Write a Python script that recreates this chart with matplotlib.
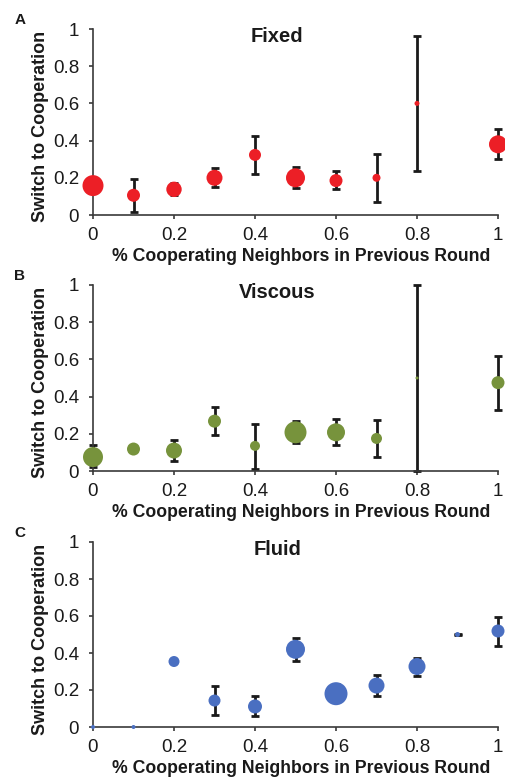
import numpy as np
import matplotlib
matplotlib.use('Agg')
import matplotlib.pyplot as plt
from matplotlib.ticker import FuncFormatter

plt.rcParams['font.family'] = ['Liberation Sans', 'DejaVu Sans']

nan = np.nan

# Fixed
fixed_x = [0, 0.1, 0.2, 0.3, 0.4, 0.5, 0.6, 0.7, 0.8, 1.0]
fixed_y = [0.158, 0.106, 0.138, 0.20, 0.323, 0.20, 0.185, 0.20, 0.60, 0.38]
fixed_lo = [nan, 0.018, 0.11, 0.152, 0.219, 0.145, 0.14, 0.07, 0.235, 0.30]
fixed_hi = [nan, 0.195, 0.17, 0.251, 0.426, 0.26, 0.235, 0.33, 0.965, 0.46]
fixed_size = [10.5, 6.5, 7.7, 8, 6, 9.5, 6.5, 4, 2.5, 9]

# Viscous
visc_x = [0, 0.1, 0.2, 0.3, 0.4, 0.5, 0.6, 0.7, 0.8, 1.0]
visc_y = [0.075, 0.118, 0.11, 0.268, 0.135, 0.208, 0.208, 0.175, 0.50, 0.475]
visc_lo = [0.02, nan, 0.055, 0.195, 0.01, 0.15, 0.14, 0.075, 0.0, 0.33]
visc_hi = [0.14, nan, 0.165, 0.345, 0.255, 0.27, 0.28, 0.275, 1.0, 0.62]
visc_size = [10, 6.5, 8, 6.5, 5, 11, 9, 5.5, 1.5, 6.5]

# Fluid
fluid_x = [0, 0.1, 0.2, 0.3, 0.4, 0.5, 0.6, 0.7, 0.8, 0.9, 1.0]
fluid_y = [0.0, 0.0, 0.354, 0.143, 0.111, 0.42, 0.18, 0.224, 0.327, 0.50, 0.519]
fluid_lo = [nan, nan, nan, 0.065, 0.057, 0.355, 0.17, 0.17, 0.275, 0.497, 0.44]
fluid_hi = [nan, nan, nan, 0.22, 0.165, 0.48, 0.23, 0.28, 0.375, 0.503, 0.595]
fluid_size = [2, 2, 5.5, 6, 7, 9.5, 11.5, 8, 8.5, 2.5, 6.5]

panels = [
    ('A', 'Fixed', fixed_x, fixed_y, fixed_lo, fixed_hi, fixed_size, '#ec1f26'),
    ('B', 'Viscous', visc_x, visc_y, visc_lo, visc_hi, visc_size, '#77933c'),
    ('C', 'Fluid', fluid_x, fluid_y, fluid_lo, fluid_hi, fluid_size, '#4a6fc1'),
]

W, H = 506, 783
fig = plt.figure(figsize=(W / 100, H / 100), dpi=100)

# top / bottom pixel of each axes
boxes = [(29, 215), (285, 471), (542, 727)]
left_px, right_px = 93, 498

for (letter, title, x, y, lo, hi, size, color), (top, bot) in zip(panels, boxes):
    ax = fig.add_axes([left_px / W, 1 - bot / H, (right_px - left_px) / W, (bot - top) / H])
    x = np.array(x)
    y = np.array(y)
    lo = np.array(lo)
    hi = np.array(hi)
    m = ~np.isnan(lo)
    ax.errorbar(x[m], y[m], yerr=[y[m] - lo[m], hi[m] - y[m]], fmt='none',
                ecolor='#1a1a1a', elinewidth=2.0, capsize=2.7, capthick=2.0,
                clip_on=False, zorder=2)
    ms = np.array(size) * 2 * 0.72
    ax.scatter(x, y, s=ms ** 2, color=color, edgecolors='none', zorder=3, clip_on=False)

    ax.set_xlim(0, 1)
    ax.set_ylim(0, 1)
    ax.set_xticks([0, 0.2, 0.4, 0.6, 0.8, 1])
    ax.set_yticks([0, 0.2, 0.4, 0.6, 0.8, 1])
    fmt = FuncFormatter(lambda v, p: '%g' % v)
    ax.xaxis.set_major_formatter(fmt)
    ax.yaxis.set_major_formatter(fmt)
    for s in ['top', 'right']:
        ax.spines[s].set_visible(False)
    for s in ['left', 'bottom']:
        ax.spines[s].set_color('#3a3a3a')
        ax.spines[s].set_linewidth(1.2)
    ax.tick_params(direction='out', length=3, width=1.2, color='#3a3a3a',
                   labelsize=13.5, labelcolor='#1a1a1a')
    ax.tick_params(axis='x', pad=6)
    ax.tick_params(axis='y', pad=7)
    ax.set_xlabel('% Cooperating Neighbors in Previous Round', fontsize=12.7,
                  fontweight='bold', color='#1a1a1a', labelpad=2.5)
    ax.xaxis.label.set_x(0.514)
    ax.set_ylabel('Switch to Cooperation', fontsize=13, fontweight='bold',
                  color='#1a1a1a', labelpad=3)
    ax.yaxis.label.set_y(0.475)
    ax.text(0.455, 1.01, title, transform=ax.transAxes, ha='center', va='top',
            fontsize=14.5, fontweight='bold', color='#1a1a1a')
    fig.text(20 / W, 1 - (top - 9) / H, letter, ha='center', va='center',
             fontsize=11, fontweight='bold', color='#1a1a1a')

fig.savefig('out.png', dpi=100)
